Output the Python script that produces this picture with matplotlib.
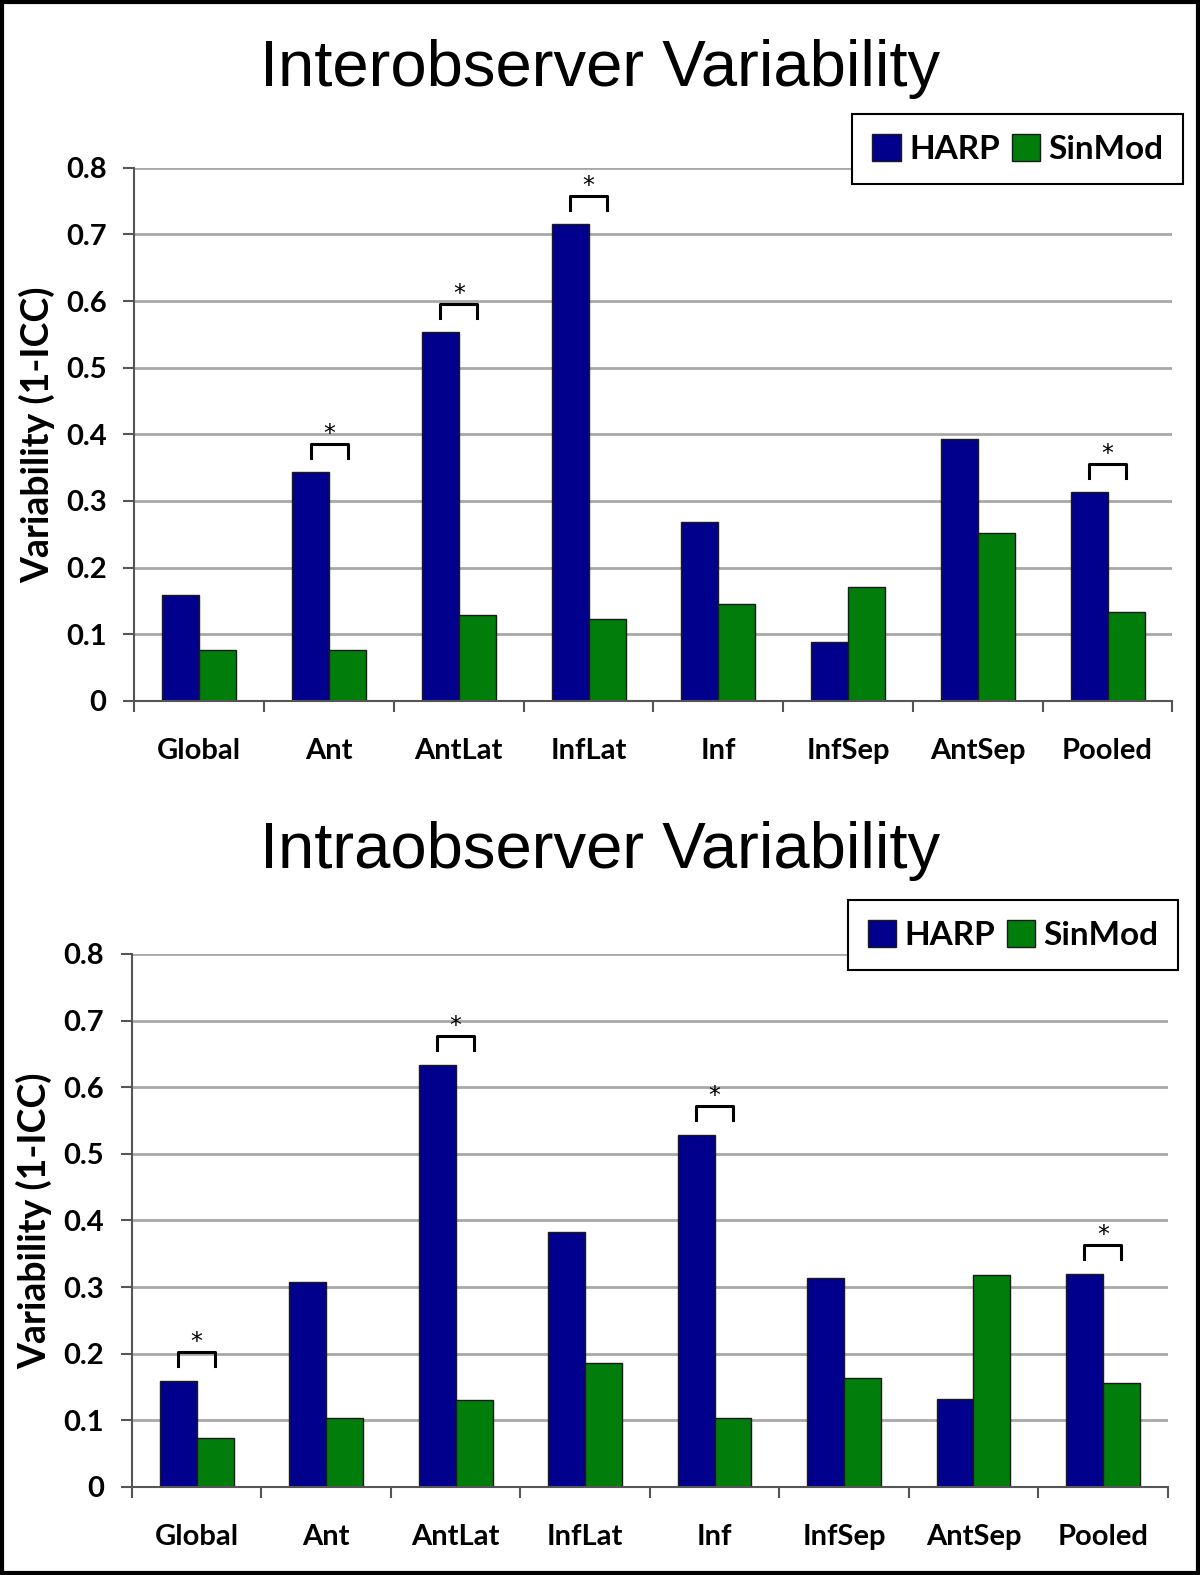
import numpy as np
import matplotlib.pyplot as plt
from matplotlib.patches import Rectangle

categories = ["Global", "Ant", "AntLat", "InfLat", "Inf", "InfSep", "AntSep", "Pooled"]

# Interobserver variability (1-ICC)
inter_harp = [0.159, 0.343, 0.553, 0.715, 0.268, 0.088, 0.393, 0.313]
inter_sinmod = [0.077, 0.077, 0.129, 0.123, 0.145, 0.171, 0.252, 0.133]
inter_sig = ["Ant", "AntLat", "InfLat", "Pooled"]

# Intraobserver variability (1-ICC)
intra_harp = [0.159, 0.308, 0.634, 0.383, 0.529, 0.314, 0.132, 0.320]
intra_sinmod = [0.074, 0.103, 0.131, 0.186, 0.103, 0.164, 0.318, 0.156]
intra_sig = ["Global", "AntLat", "Inf", "Pooled"]

HARP_COLOR = "#00008c"
SIN_COLOR = "#007d0a"
LABEL_FONT = ["Lato", "DejaVu Sans"]
TITLE_FONT = ["Liberation Sans", "DejaVu Sans"]

fig = plt.figure(figsize=(12, 15.75), dpi=100)


def panel(rect, title, title_y, harp, sinmod, sig, legend_anchor):
    ax = fig.add_axes(rect)
    x = np.arange(len(categories))
    w = 0.285
    ax.bar(x - w / 2, harp, w, color=HARP_COLOR, edgecolor="#1a1a1a", lw=1, label="HARP", zorder=3)
    ax.bar(x + w / 2, sinmod, w, color=SIN_COLOR, edgecolor="#1a1a1a", lw=1, label="SinMod", zorder=3)

    ax.set_xlim(-0.5, len(categories) - 0.5)
    ax.set_ylim(0, 0.8)
    ax.set_yticks(np.arange(0, 0.81, 0.1))
    ax.set_yticklabels(["0"] + [f"{v:.1f}" for v in np.arange(0.1, 0.81, 0.1)])
    ax.set_xticks(x)
    ax.set_xticklabels(categories)
    ax.set_xticks(np.arange(len(categories) + 1) - 0.5, minor=True)
    ax.tick_params(axis="x", which="major", length=0, pad=27)
    ax.tick_params(axis="x", which="minor", length=8, width=1.5, color="#555555", direction="out")
    ax.tick_params(axis="y", length=8, width=1.5, color="#555555", pad=12)
    for lab in ax.get_xticklabels() + ax.get_yticklabels():
        lab.set_family(LABEL_FONT)
        lab.set_fontweight("bold")
        lab.set_fontsize(21)

    ax.grid(axis="y", color="#a8a8a8", lw=2, zorder=0)
    ax.set_axisbelow(True)
    for s in ["top", "right"]:
        ax.spines[s].set_visible(False)
    for s in ["left", "bottom"]:
        ax.spines[s].set_color("#555555")
        ax.spines[s].set_linewidth(1.5)
        ax.spines[s].set_zorder(4)

    ax.set_ylabel("Variability (1-ICC)", family=LABEL_FONT, fontweight="bold", fontsize=27, labelpad=8)

    # significance brackets
    for name in sig:
        i = categories.index(name)
        top = max(harp[i], sinmod[i])
        x0, x1 = i - w / 2, i + w / 2
        ax.plot([x0, x0, x1, x1], [top + 0.022, top + 0.043, top + 0.043, top + 0.022],
                color="black", lw=2.2, zorder=5, clip_on=False)
        ax.text(i, top + 0.058, "*", ha="center", va="center", fontsize=17, zorder=5)

    leg = ax.legend(loc="upper right", bbox_to_anchor=legend_anchor, bbox_transform=fig.transFigure,
                    ncol=2, fancybox=False, edgecolor="black", framealpha=1, borderaxespad=0,
                    handlelength=0.85, handleheight=0.85, handletextpad=0.25, columnspacing=0.35,
                    borderpad=0.6, prop={"family": LABEL_FONT, "weight": "bold", "size": 24})
    leg.get_frame().set_linewidth(1.5)

    fig.text(0.5, title_y, title, ha="center", va="baseline", fontsize=47, family=TITLE_FONT)
    return ax


panel([0.112, 0.555, 0.865, 0.3385], "Interobserver Variability", 0.9454,
      inter_harp, inter_sinmod, inter_sig, (0.986, 0.9276))
panel([0.110, 0.0559, 0.863, 0.3384], "Intraobserver Variability", 0.449,
      intra_harp, intra_sinmod, intra_sig, (0.982, 0.4286))

fig.add_artist(Rectangle((0.0015, 0.0012), 0.997, 0.9976, transform=fig.transFigure,
                         fill=False, edgecolor="black", lw=3))

fig.savefig("out.png", dpi=100)
